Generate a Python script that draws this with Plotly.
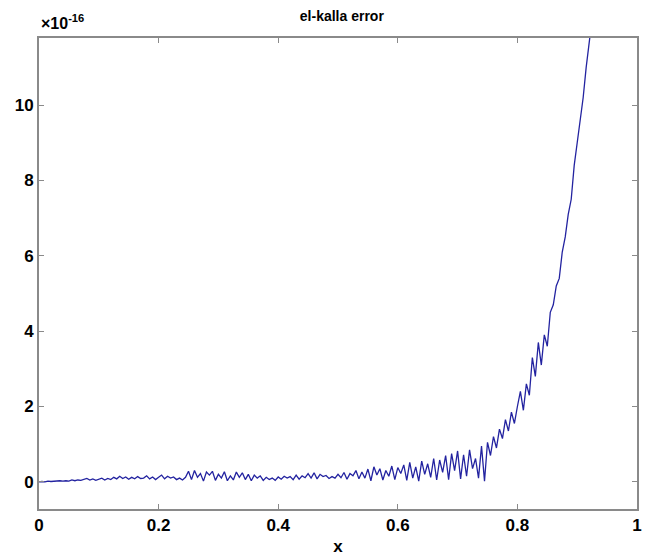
import numpy as np
import plotly.graph_objects as go

# sample positions (x grid) and read-off error values (units of 1e-16)
x_vals = np.round(np.arange(186) * 0.005, 3)
err_vals = [
    0.00, 0.01, 0.00, 0.02, 0.01, 0.02, 0.01, 0.03, 0.02, 0.03,
    0.02, 0.05, 0.03, 0.05, 0.04, 0.06, 0.09, 0.05, 0.08, 0.04,
    0.06, 0.10, 0.05, 0.09, 0.06, 0.12, 0.08, 0.15, 0.09, 0.13,
    0.07, 0.12, 0.08, 0.14, 0.09, 0.10, 0.16, 0.08, 0.13, 0.06,
    0.12, 0.18, 0.08, 0.15, 0.10, 0.13, 0.06, 0.10, 0.05, 0.12,
    0.28, 0.06, 0.30, 0.12, 0.22, 0.02, 0.26, 0.18, 0.28, 0.04,
    0.20, 0.10, 0.27, 0.03, 0.16, 0.05, 0.26, 0.12, 0.24, 0.06,
    0.20, 0.03, 0.18, 0.10, 0.16, 0.04, 0.12, 0.06, 0.10, 0.04,
    0.13, 0.07, 0.15, 0.10, 0.14, 0.06, 0.18, 0.07, 0.16, 0.11,
    0.22, 0.10, 0.24, 0.08, 0.20, 0.14, 0.17, 0.09, 0.14, 0.10,
    0.20, 0.11, 0.25, 0.07, 0.22, 0.16, 0.30, 0.08, 0.26, 0.10,
    0.34, 0.03, 0.40, 0.18, 0.35, 0.05, 0.30, 0.15, 0.42, 0.06,
    0.38, 0.22, 0.45, 0.04, 0.52, 0.10, 0.40, 0.02, 0.55, 0.20,
    0.48, 0.12, 0.62, 0.05, 0.58, 0.25, 0.70, 0.06, 0.75, 0.30,
    0.82, 0.08, 0.72, 0.15, 0.85, 0.35, 0.62, 0.10, 0.95, 0.02,
    1.05, 0.70, 1.20, 0.90, 1.40, 1.15, 1.65, 1.35, 1.85, 1.55,
    2.00, 2.40, 1.90, 2.60, 2.30, 3.30, 2.80, 3.70, 3.10, 3.90,
    3.60, 4.50, 4.70, 5.20, 5.40, 6.10, 6.50, 7.10, 7.50, 8.40,
    9.00, 9.60, 10.20, 11.00, 11.60, 12.30,
]

x_ticks = [0, 0.2, 0.4, 0.6, 0.8, 1]
x_tick_labels = ["0", "0.2", "0.4", "0.6", "0.8", "1"]
y_ticks = [0, 2, 4, 6, 8, 10]
y_tick_labels = ["0", "2", "4", "6", "8", "10"]

FONT = "Liberation Sans, Arial, sans-serif"

fig = go.Figure()
fig.add_trace(go.Scatter(
    x=x_vals, y=err_vals, mode="lines",
    line=dict(color="rgb(35,35,160)", width=1.3),
    showlegend=False,
))

axis_common = dict(
    showline=True, linecolor="#8a8a8a", linewidth=2, mirror="ticks",
    ticks="inside", ticklen=5, tickcolor="#8a8a8a", tickwidth=1,
    showgrid=False, zeroline=False, automargin=False,
    tickfont=dict(family=FONT, size=17, color="black"),
)

fig.update_layout(
    width=642, height=549,
    margin=dict(l=31, r=13, t=30, b=48, autoexpand=False),
    paper_bgcolor="white", plot_bgcolor="white",
    title=dict(text="<b>el-kalla error</b>", x=0.52, xanchor="center", y=0.985, yanchor="middle",
               automargin=False,
               font=dict(family=FONT, size=14, color="black")),
    xaxis=dict(range=[0, 1], tickvals=x_ticks,
               ticktext=["<b>%s</b>" % t for t in x_tick_labels],
               title=dict(text="<b>x</b>", standoff=6,
                          font=dict(family=FONT, size=17, color="black")),
               **axis_common),
    yaxis=dict(range=[-0.72, 11.78], tickvals=y_ticks,
               ticktext=["<b>%s</b>" % t for t in y_tick_labels],
               **axis_common),
    annotations=[dict(
        text="<b>×10<sup>-16</sup></b>", xref="paper", yref="paper",
        x=0.0, y=1.034, xanchor="left", yanchor="middle", showarrow=False,
        font=dict(family=FONT, size=16, color="black"),
    )],
)

fig.write_html("out.html")
